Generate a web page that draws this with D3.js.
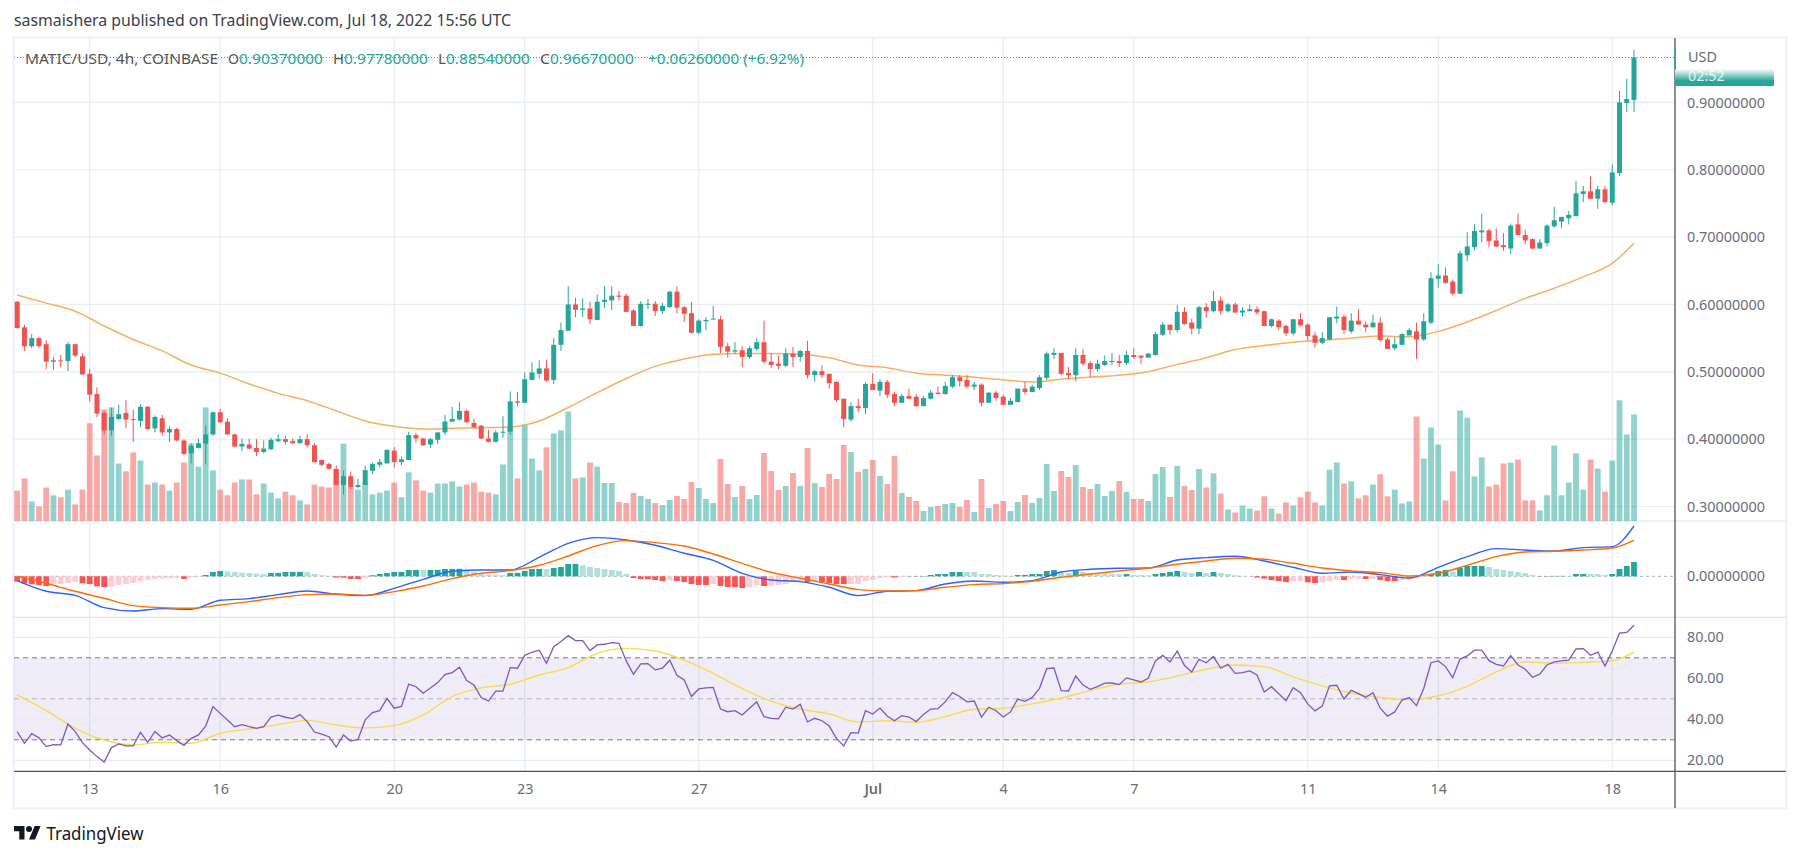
<!DOCTYPE html>
<html><head><meta charset="utf-8">
<script src="https://cdn.jsdelivr.net/npm/d3@7"></script>
<style>html,body{margin:0;background:#fff;overflow:hidden}svg{display:block}text{font-family:"Noto Sans",sans-serif}</style>
</head><body><svg id="c" width="1801" height="857"></svg>
<script>
const openP=[.604,.566,.538,.550,.541,.515,.517,.516,.541,.523,
.497,.467,.439,.413,.430,.439,.430,.427,.448,.416,
.431,.410,.415,.398,.379,.387,.393,.407,.440,.426,
.407,.389,.392,.387,.381,.385,.397,.400,.397,.394,
.400,.391,.369,.363,.356,.332,.345,.329,.332,.353,
.362,.364,.383,.366,.369,.406,.401,.392,.399,.410,
.426,.429,.442,.424,.420,.401,.396,.410,.411,.456,
.454,.488,.497,.505,.488,.540,.561,.600,.592,.594,
.577,.604,.606,.613,.613,.591,.568,.600,.601,.590,
.596,.619,.596,.587,.558,.575,.578,.578,.538,.530,
.532,.522,.534,.544,.515,.512,.509,.527,.522,.531,
.495,.501,.497,.485,.460,.429,.449,.446,.482,.472,
.485,.467,.454,.464,.463,.449,.460,.469,.467,.478,
.492,.488,.478,.481,.454,.469,.463,.451,.455,.475,
.470,.476,.491,.525,.528,.498,.495,.525,.513,.504,
.510,.515,.516,.513,.525,.524,.521,.525,.555,.570,
.562,.589,.573,.564,.596,.590,.606,.590,.600,.588,
.590,.593,.590,.568,.576,.568,.557,.578,.570,.554,
.543,.548,.579,.582,.560,.576,.570,.566,.573,.548,
.535,.540,.554,.560,.548,.573,.638,.643,.634,.616,
.673,.685,.707,.710,.695,.688,.683,.719,.703,.697,
.683,.691,.716,.723,.728,.731,.764,.768,.757,.771,
.751,.795,.899,.9037];
const highP=[.605,.570,.556,.552,.547,.522,.525,.544,.541,.527,
.504,.477,.442,.447,.451,.458,.444,.452,.449,.435,
.436,.419,.417,.400,.394,.401,.420,.441,.445,.431,
.408,.401,.401,.400,.398,.402,.407,.405,.401,.405,
.407,.394,.370,.365,.361,.353,.352,.341,.361,.365,
.371,.385,.388,.374,.411,.409,.402,.402,.410,.436,
.448,.455,.444,.430,.421,.414,.413,.434,.471,.470,
.499,.514,.517,.518,.550,.573,.627,.610,.609,.604,
.615,.627,.627,.620,.616,.593,.605,.608,.605,.602,
.620,.627,.597,.604,.578,.581,.598,.583,.543,.544,
.538,.538,.550,.576,.528,.524,.535,.537,.532,.546,
.503,.510,.497,.486,.460,.455,.460,.484,.498,.489,
.488,.470,.467,.475,.467,.464,.473,.478,.485,.495,
.495,.495,.485,.483,.470,.472,.466,.461,.475,.485,
.481,.495,.530,.535,.528,.507,.535,.534,.516,.518,
.524,.528,.525,.531,.535,.524,.528,.559,.574,.570,
.599,.596,.579,.598,.602,.620,.612,.602,.603,.596,
.600,.597,.590,.579,.578,.570,.578,.587,.572,.559,
.559,.581,.597,.585,.587,.593,.575,.585,.581,.551,
.551,.557,.565,.573,.587,.648,.660,.655,.637,.680,
.707,.719,.735,.712,.713,.706,.720,.735,.711,.698,
.697,.719,.745,.730,.739,.783,.776,.790,.776,.776,
.808,.917,.935,.9778];
const lowP=[.564,.531,.535,.535,.504,.503,.507,.501,.522,.496,
.456,.433,.407,.405,.428,.416,.396,.418,.413,.410,
.405,.396,.397,.376,.364,.386,.363,.405,.424,.406,
.388,.382,.385,.375,.379,.384,.395,.392,.393,.394,
.388,.365,.360,.355,.332,.318,.326,.327,.332,.348,
.358,.364,.358,.361,.369,.395,.390,.387,.393,.406,
.426,.428,.424,.417,.400,.395,.395,.402,.407,.449,
.454,.487,.490,.485,.482,.531,.561,.581,.581,.571,
.577,.595,.592,.606,.589,.568,.567,.593,.583,.586,
.595,.587,.574,.557,.555,.562,.578,.528,.521,.527,
.507,.519,.531,.512,.506,.504,.507,.507,.515,.490,
.485,.491,.475,.455,.418,.426,.440,.437,.473,.464,
.461,.449,.454,.460,.448,.449,.459,.466,.466,.476,
.478,.475,.473,.449,.454,.457,.451,.451,.455,.466,
.470,.473,.488,.519,.495,.489,.486,.509,.492,.501,
.509,.510,.507,.510,.519,.512,.521,.524,.553,.555,
.559,.570,.556,.556,.580,.588,.585,.588,.587,.582,
.590,.585,.568,.566,.562,.553,.554,.567,.546,.536,
.541,.547,.572,.556,.557,.570,.559,.566,.544,.534,
.532,.540,.554,.519,.546,.571,.625,.631,.613,.615,
.664,.680,.692,.685,.685,.680,.675,.703,.689,.682,
.683,.686,.714,.713,.719,.731,.752,.756,.742,.750,
.747,.791,.886,.8854];
const closeP=[.565,.538,.550,.538,.515,.517,.516,.541,.524,.496,
.466,.438,.413,.433,.437,.429,.429,.448,.415,.433,
.410,.415,.398,.378,.390,.394,.407,.440,.425,.407,
.389,.393,.386,.381,.386,.399,.400,.396,.394,.400,
.391,.366,.362,.356,.332,.345,.329,.332,.354,.363,
.366,.384,.366,.370,.406,.401,.391,.400,.410,.426,
.430,.442,.425,.418,.401,.396,.410,.411,.456,.454,
.489,.499,.505,.487,.540,.562,.600,.592,.594,.578,
.604,.607,.613,.612,.589,.568,.601,.601,.590,.598,
.619,.595,.586,.558,.576,.577,.579,.537,.530,.532,
.522,.535,.544,.515,.510,.509,.527,.522,.531,.495,
.501,.495,.483,.458,.430,.449,.446,.482,.473,.485,
.466,.454,.464,.460,.449,.461,.469,.467,.479,.492,
.486,.478,.481,.454,.469,.461,.451,.457,.475,.470,
.478,.492,.527,.528,.497,.495,.525,.512,.504,.512,
.516,.516,.513,.525,.522,.521,.527,.556,.570,.562,
.589,.571,.564,.596,.590,.605,.590,.600,.588,.591,
.593,.588,.568,.578,.566,.557,.578,.569,.553,.543,
.550,.581,.582,.562,.576,.570,.566,.573,.547,.534,
.541,.556,.562,.548,.575,.639,.643,.632,.616,.676,
.686,.709,.710,.694,.686,.685,.717,.703,.695,.683,
.692,.717,.725,.730,.733,.765,.768,.757,.771,.752,
.796,.900,.905,.9667];
const volumeK=[30.4,42.6,19.6,14.5,33.5,25.7,23.7,31.4,16.6,31.4,
97.7,65.6,111.6,113.6,57.5,49.7,68.6,60.5,36.5,38.5,
36.5,30.4,38.5,58.5,77.4,54.4,113.6,50.7,31.4,25.7,
38.5,41.6,41.6,26.7,37.5,28.4,22.7,29.4,25.7,20.6,
16.6,36.5,34.5,33.5,52,77.4,34.5,31.4,38.5,26.7,
28.4,30.4,38.5,23.7,48.7,40.6,30.4,28.4,37.5,37.5,
39.6,34.5,36.5,38.5,29.4,28.4,26.7,56.5,94.7,42.6,
96.7,62.5,50.7,73.7,87.6,90.6,109.5,42.6,43.6,58.5,
54.4,38,38,19,18,28,25,22,18,16,
21,25,22,39,33,22,18,62,37,24,
35,22,26,68,50,31,35,48,35,73,
38,34,47,42,76,69,49,52,61,45,
37,65,28,24,20,10,14,15,17,18,
14,21,9,42,13,17,20,10,19,26,
18,23,57,30,50,44,56,34,32,37,
25,30,40,29,22,22,20,47,54,24,
55,35,31,52,33.5,47.7,27.4,11.5,8.5,15.5,
12.5,10.5,24.7,12.5,7.4,18.6,15.5,23.7,29.4,18.6,
15.5,51.4,58.5,37.5,39.6,22.7,25.7,36.5,46.7,24.7,
31.4,17.6,19.6,104.5,62.5,93.6,76.4,20.6,49.7,110.5,
103.4,44.6,63.6,34.5,36.5,57.5,58.5,61.5,20.6,20.6,
10.5,25.7,75.4,25.7,38.5,67.6,31.4,61.5,52.4,29.4,
60.5,120.7,86.5,106.5];
const sampleBars=d3.range(0,224,4).concat([223]);
const ma50=[.614,.602,.590,.568,.548,.531,.510,.498,.482,.468,.457,.442,.427,.419,.415,.416,.417,.418,.427,.447,.469,
.490,.508,.519,.526,.527,.527,.526,.521,.510,.506,.498,.495,.492,.488,.485,.489,.492,.495,.500,.511,
.521,.533,.539,.544,.547,.550,.553,.552,.560,.574,.591,.609,.624,.641,.661,.691];
const macdMilli=[-4.3,-15,-19,-31.3,-34.7,-32.3,-33,-24,-22.3,-18.3,-14.7,-18,-19.3,-12,-3,5,6.3,6.3,19,33,38.7,
36.3,31,23,16,3,-3.7,-5.3,-11,-19.3,-15,-14.3,-7.7,-4.7,-6,-4.3,4.3,7,8,8.3,16.3,
18.7,20,15.3,9,3,4.3,1.7,-1.7,9,19.7,27.7,26.3,25.3,28.7,29.7,50.3];
const signalMilli=[0,-7,-15,-22,-29.3,-31.3,-32,-28.7,-25.3,-21.3,-18.3,-17.7,-19,-15.3,-9.7,-2.3,3,5.7,11,20.3,30.7,
35.7,33.7,30.3,22.3,13,4,-2,-7.7,-13.3,-14.7,-14.3,-11,-8.3,-7.3,-5,-1,2.3,5.3,8.3,12,
15.3,18,17,13,8.3,5.3,3.7,.3,3,11,19.7,24.3,25,26.3,28.3,36];
const histMilli=[-5.3,-7.3,-8,-8.7,-9.7,-8.3,-7.7,-6.7,-5.7,-7,
-7.7,-10,-10.7,-10.3,-8.7,-7.7,-6.7,-4.7,-3.7,-2.7,
-2.3,-2,-1.7,-2.7,-1.3,-.7,1.3,4.3,5.3,5,
4.3,3.7,3.3,2.7,2.3,3.3,3.4,4.3,4.4,4.5,
4.3,2.3,1,.3,-1.3,-1.4,-2.7,-2.8,-1.7,1,
2.3,3.3,4.3,4.4,6.3,6.4,6.3,6.35,6.4,7.3,
7.4,7.5,5.7,4.3,2.3,1.7,1.3,1,3.3,3.4,
5.3,7.3,7.4,7.2,8.3,9.3,12.3,12.4,11,9.3,
8.3,7.3,6.3,5.3,2.3,-1.7,-2.7,-2.7,-3.7,-4.7,
-3.7,-4.7,-5.7,-7.7,-8.7,-8.75,-7.7,-9.7,-10.7,-10.75,
-11.7,-10.7,-8.7,-9.7,-9.6,-8.7,-7.7,-5.5,-5,-5.7,
-4.7,-5.7,-6.7,-7.7,-7.75,-7.7,-7.6,-4.7,-3.7,-1.7,
-1,-1.3,-.7,.2,.25,.3,1.3,2.3,2.35,4.3,
4.35,4.3,4.25,2.3,2.25,1.3,.7,.3,1.3,1.35,
2.3,2.35,5.3,6.3,3.3,3.25,5.3,4.3,3.3,2.3,
2.25,2.2,2.15,2.3,1.3,1.25,1,2.3,3.3,4.3,
5.3,4.3,3.3,4.3,3.3,4.3,3.3,2.3,1,.3,
.1,-1.3,-2.3,-3.7,-4.7,-5.7,-4.7,-4.6,-6,-6.7,
-6,-4.7,-3.7,-3.8,-2.7,-2.6,-2.7,-2.6,-3.7,-4.7,
-4.8,-3.7,-3.6,-2.3,-1,2.3,5.3,6.3,4.3,8.3,
10.3,10.35,10.4,9.3,7.3,6.3,5.3,4.3,3.3,1.3,
-.3,.3,.35,.4,.3,2.3,2.35,2.3,2.25,1.3,
2.3,7.3,10.3,14.3];
const rsi=[34,28.3,33,31,26.7,27.6,27.5,37.7,34,28.6,
25,21.8,19.2,26.2,28,27,27,33.7,28.8,34.1,
30.9,32.4,29.6,27.3,30.7,32.4,36.7,46.2,42.9,39.7,
36.4,37.4,36.4,35.6,36.4,41.1,42,41,40.3,42.3,
38.9,33.8,32.8,31.5,26.5,32.4,29.4,30.2,39.7,43.3,
44.2,50.2,45.4,46.3,57.2,55.9,52.7,55.3,57.9,61.8,
62.8,65.4,58.9,56.7,50.6,48.9,53.7,53.7,65.2,64.9,
71.2,72.7,73.7,67.3,75.4,77.9,80.8,78.4,78.4,73.5,
76.3,76.6,77.4,77.1,68.5,62,67,67.2,64.1,64.9,
68.8,61.5,59.2,51.1,54.8,55.3,55.6,45,43.7,44.2,
42.1,45.4,48.5,41.3,40.5,40.2,45.9,45,47.3,38.7,
40.5,39.3,36.7,30.7,27,33.5,33.3,44.2,42.6,45.5,
41.6,39.3,41.8,41.1,38.9,42.4,45,45.2,48.5,53,
51.1,48.5,48.9,41,45.9,44.2,41.1,43.6,49.9,48.8,
50.7,55.1,64.7,65,54,53.8,61.1,56.7,54.6,55.9,
57.6,57.7,56.9,60.2,59.2,58.2,60,68.5,71.2,68,
73.3,66.2,63.1,69.3,67.6,70.6,64.9,66.8,62.4,62.8,
63.6,61.6,53.3,55.9,52.5,49.1,55.4,53,47.5,44.1,
46.5,56.3,56.6,49.9,54.1,52.5,50.7,53,45.4,41.5,
43.6,49.4,50.6,46.7,55,67.6,68.5,65.7,60.3,69.4,
70.9,73.7,73.7,68.6,66.8,66,71.1,66.5,64.4,60.5,
62,66.5,68,68.5,68.9,74.3,74.5,71.2,72.8,66,
73.3,82.1,82.4,85.9];
const rsiMa=[51.9,44.2,35.6,29.9,27.5,28.8,28.3,33.2,35.3,37.4,39.5,37.2,35.8,36.9,42.1,51.1,55.3,57.1,61.6,65.2,72.2,
74.6,73.3,68.9,62.4,55,48.9,45,42.6,38.7,39.3,38.5,41.3,44.9,45.4,47.5,50.4,54,57.2,58.2,61.1,
64.4,66.5,65.7,60.7,56.3,52.7,50.7,49.6,51.5,56.1,63.1,68.1,67.3,67.8,68.5,72.8];
const priceTicks=[.3,.4,.5,.6,.7,.8,.9];
const rsiTicks=[20,40,60,80];
const rsiBands=[70,50,30];
const dateBars=[10,28,52,70,94,118,136,154,178,196,220];
const dateLabels=["13","16","20","23","27","Jul","4","7","11","14","18"];

const UP="#26a69a",DOWN="#ef5350",GRID="#e6edf3";
const L=14,R=1675,FR=1786,T=38,VB=521,MB=617.3,RB=771.3,FB=808;
const svg=d3.select("#c");
const x=d3.scaleLinear().domain([0,223]).range([17.2,1634]);
const yP=d3.scaleLinear().domain([.3,.9]).range([506.5,102.4]);
const yV=d3.scaleLinear().domain([0,100]).range([VB,VB-100]);
const yM=d3.scaleLinear().domain([-41,55.3]).range([MB,VB]);
const yR=d3.scaleLinear().domain([20,80]).range([760.3,637.3]);
const bars=d3.range(openP.length);

svg.append("defs").html('<linearGradient id="fade" x1="0" y1="0" x2="0" y2="1"><stop offset="0" stop-color="#fff"/><stop offset=".7" stop-color="#26a69a"/><stop offset="1" stop-color="#26a69a"/></linearGradient><clipPath id="pane"><rect x="'+L+'" y="'+T+'" width="'+(R-L)+'" height="'+(RB-T)+'"/></clipPath>');

// frame
svg.append("rect").attr("x",L-.5).attr("y",T-.5).attr("width",FR-L+1).attr("height",FB-T+1).attr("fill","#fff").attr("stroke","#f0f3fa").attr("stroke-width",2.5);

// vertical grid
svg.append("g").selectAll("line").data(dateBars).join("line").attr("x1",d=>x(d)).attr("x2",d=>x(d)).attr("y1",T).attr("y2",RB).attr("stroke",GRID).attr("stroke-width",1.2);
// horizontal grid
svg.append("g").selectAll("line").data(priceTicks).join("line").attr("x1",L).attr("x2",R).attr("y1",d=>yP(d)).attr("y2",d=>yP(d)).attr("stroke",GRID).attr("stroke-width",1.2);

// RSI band and grid
svg.append("rect").attr("x",L).attr("width",R-L).attr("y",yR(70)).attr("height",yR(30)-yR(70)).attr("fill","#7e57c2").attr("fill-opacity",.115);
svg.append("g").selectAll("line").data(rsiTicks).join("line").attr("x1",L).attr("x2",R).attr("y1",d=>yR(d)).attr("y2",d=>yR(d)).attr("stroke",GRID).attr("stroke-width",1.2);
svg.append("g").selectAll("line").data(rsiBands).join("line").attr("x1",L).attr("x2",R).attr("y1",d=>yR(d)).attr("y2",d=>yR(d)).attr("stroke","#787b86").attr("stroke-opacity",d=>d===50?.5:1).attr("stroke-dasharray","5 4").attr("stroke-width",1);

// separators
svg.append("g").selectAll("line").data([VB,MB]).join("line").attr("x1",L).attr("x2",FR).attr("y1",d=>d).attr("y2",d=>d).attr("stroke","#e0e3eb").attr("stroke-width",1.2);

const chart=svg.append("g").attr("clip-path","url(#pane)");
// volume
chart.append("g").selectAll("rect").data(bars).join("rect").attr("x",i=>x(i)-2.9).attr("width",5.8).attr("y",i=>yV(volumeK[i])).attr("height",i=>VB-yV(volumeK[i])).attr("fill",i=>closeP[i]>=openP[i]?UP:DOWN).attr("fill-opacity",.5);

// MA
const sampled=(vals,y)=>d3.line().x((d,k)=>x(sampleBars[k])).y(d=>y(d)).curve(d3.curveMonotoneX)(vals);
chart.append("path").attr("d",sampled(ma50,yP)).attr("fill","none").attr("stroke","#fbae62").attr("stroke-width",1.5);

// candles
const c=chart.append("g").selectAll("g").data(bars).join("g").attr("fill",i=>closeP[i]>=openP[i]?UP:DOWN).attr("stroke",i=>closeP[i]>=openP[i]?UP:DOWN);
c.append("line").attr("x1",i=>x(i)).attr("x2",i=>x(i)).attr("y1",i=>yP(highP[i])).attr("y2",i=>yP(lowP[i])).attr("stroke-width",1);
c.append("rect").attr("x",i=>x(i)-2.5).attr("width",5).attr("y",i=>yP(Math.max(openP[i],closeP[i]))).attr("height",i=>Math.max(1,Math.abs(yP(openP[i])-yP(closeP[i])))).attr("stroke","none");

// price line
svg.append("line").attr("x1",L).attr("x2",R).attr("y1",yP(closeP[223])).attr("y2",yP(closeP[223])).attr("stroke",UP).attr("stroke-width",1).attr("stroke-dasharray","1 2");

// MACD
const zero=yM(0);
chart.append("line").attr("x1",L).attr("x2",R).attr("y1",zero).attr("y2",zero).attr("stroke","#787b86").attr("stroke-opacity",.6).attr("stroke-dasharray","3 3");
const hc=i=>{const v=histMilli[i],p=i?histMilli[i-1]:v;return v>=0?(v>=p?"#26a69a":"#b2dfdb"):(v<=p?"#ff5252":"#ffcdd2");};
chart.append("g").selectAll("rect").data(bars).join("rect").attr("x",i=>x(i)-2.9).attr("width",5.8).attr("y",i=>Math.min(yM(histMilli[i]),zero)).attr("height",i=>Math.abs(yM(histMilli[i])-zero)).attr("fill",hc);
chart.append("path").attr("d",sampled(macdMilli,yM)).attr("fill","none").attr("stroke","#2962ff").attr("stroke-width",1.4);
chart.append("path").attr("d",sampled(signalMilli,yM)).attr("fill","none").attr("stroke","#ff6d00").attr("stroke-width",1.4);

// RSI
chart.append("path").attr("d",sampled(rsiMa,yR)).attr("fill","none").attr("stroke","#f7dc4b").attr("stroke-width",1.4);
chart.append("path").attr("d",d3.line().x((d,i)=>x(i)).y(d=>yR(d))(rsi)).attr("fill","none").attr("stroke","#7e57c2").attr("stroke-width",1.3);

// axes
const lab="#6a6d78";
function styleAxis(g,size){g.call(s=>s.select(".domain").remove());g.selectAll(".tick line").remove();g.selectAll("text").attr("fill",lab).attr("font-size",size).attr("font-family",'"Noto Sans",sans-serif');}
const ax1=svg.append("g").attr("transform",`translate(${R},0)`).call(d3.axisRight(yP).tickValues(priceTicks).tickFormat(d=>d.toFixed(8)).tickSize(0).tickPadding(12));
styleAxis(ax1,14.4);
const ax2=svg.append("g").attr("transform",`translate(${R},0)`).call(d3.axisRight(yM).tickValues([0]).tickFormat(d=>d.toFixed(8)).tickSize(0).tickPadding(12));
styleAxis(ax2,14.4);
const ax3=svg.append("g").attr("transform",`translate(${R},0)`).call(d3.axisRight(yR).tickValues(rsiTicks).tickFormat(d=>d.toFixed(2)).tickSize(0).tickPadding(12));
styleAxis(ax3,14.4);
const ax4=svg.append("g").attr("transform",`translate(0,${RB})`).call(d3.axisBottom(x).tickValues(dateBars).tickFormat((d,k)=>dateLabels[k]).tickSize(0).tickPadding(12));
styleAxis(ax4,14.4);
ax4.selectAll("text").attr("font-weight",(d,k)=>dateLabels[k]==="Jul"?600:400);

// axis lines
svg.append("line").attr("x1",L).attr("x2",FR).attr("y1",RB).attr("y2",RB).attr("stroke","#50535e").attr("stroke-width",1.3);
svg.append("line").attr("x1",R).attr("x2",R).attr("y1",T).attr("y2",FB).attr("stroke","#50535e").attr("stroke-width",1.3);
svg.append("line").attr("x1",R).attr("x2",R).attr("y1",47).attr("y2",70).attr("stroke",UP).attr("stroke-width",1.3);

// countdown
svg.append("rect").attr("x",R).attr("y",69).attr("width",99).attr("height",17).attr("rx",1.5).attr("fill","url(#fade)");
svg.append("text").attr("x",1688).attr("y",62).attr("font-size",14.4).attr("fill",lab).text("USD");
svg.append("text").attr("x",1688).attr("y",81).attr("font-size",14.4).attr("fill","#fff").attr("fill-opacity",.85).text("02:52");

// legend
function txt(t,xp,w,col){svg.append("text").attr("x",xp).attr("y",64).attr("font-size",14.6).attr("fill",col).attr("textLength",w).attr("lengthAdjust","spacingAndGlyphs").text(t);}
txt("MATIC/USD, 4h, COINBASE",25,193,"#555");
txt("O",228,11,"#555");txt("0.90370000",239,84,UP);
txt("H",333,11,"#555");txt("0.97780000",344,84,UP);
txt("L",438,8,"#555");txt("0.88540000",446,84,UP);
txt("C",540,10,"#555");txt("0.96670000",550,84,UP);
txt("+0.06260000 (+6.92%)",648,156,UP);

// title
svg.append("text").attr("x",14).attr("y",26).attr("font-size",15.5).attr("fill","#3a3e4a").attr("textLength",497).attr("lengthAdjust","spacingAndGlyphs").text("sasmaishera published on TradingView.com, Jul 18, 2022 15:56 UTC");

// footer
const logo=svg.append("g").attr("transform","translate(14,823) scale(.75)").attr("fill","#131722");
logo.append("path").attr("d","M14 22H7V11H0V4h14v18zM28 22h-8l7.5-18h8L28 22z");
logo.append("circle").attr("cx",20).attr("cy",8).attr("r",4);
svg.append("text").attr("x",46.5).attr("y",840).attr("font-size",17.5).attr("fill","#131722").attr("textLength",97).attr("lengthAdjust","spacingAndGlyphs").text("TradingView");
</script></body></html>
